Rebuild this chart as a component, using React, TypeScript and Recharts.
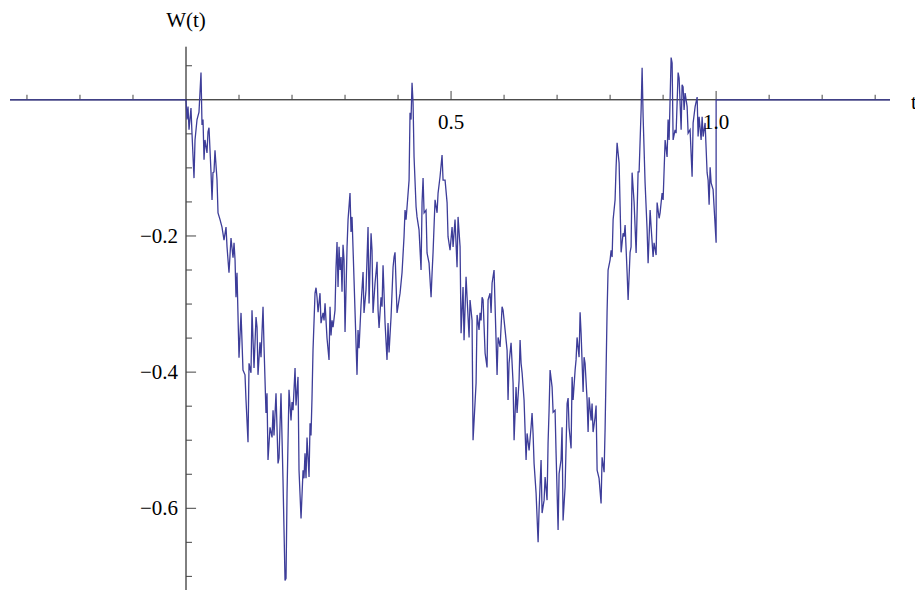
import React from "react";
import { LineChart, Line, XAxis, YAxis, ReferenceLine, ReferenceDot } from "recharts";

// sample path of W(t); W is 0 outside [0, 1]
const times = [
  -0.332,
  0, 0.0019, 0.0038, 0.0057, 0.0094, 0.0113, 0.0151, 0.017, 0.0208, 0.0245,
  0.0283, 0.0302, 0.0321, 0.034, 0.0358, 0.0396, 0.0415, 0.0434, 0.0453, 0.0472,
  0.0491, 0.0509, 0.0528, 0.0547, 0.0585, 0.0604, 0.0642, 0.0679, 0.0717, 0.0755,
  0.0774, 0.0811, 0.0849, 0.0887, 0.0906, 0.0925, 0.0943, 0.0962, 0.1, 0.1038,
  0.1075, 0.1113, 0.1132, 0.117, 0.1189, 0.1226, 0.1245, 0.1283, 0.1321, 0.134,
  0.1358, 0.1396, 0.1415, 0.1453, 0.1472, 0.1509, 0.1528, 0.1547, 0.1585, 0.1623,
  0.1642, 0.166, 0.1698, 0.1736, 0.1755, 0.1792, 0.183, 0.1849, 0.1868, 0.1887,
  0.1906, 0.1943, 0.1981, 0.2, 0.2019, 0.2057, 0.2075, 0.2113, 0.2132, 0.217,
  0.2208, 0.2226, 0.2245, 0.2264, 0.2283, 0.2321, 0.234, 0.2358, 0.2377, 0.2396,
  0.2434, 0.2453, 0.2472, 0.2491, 0.2528, 0.2547, 0.2585, 0.2604, 0.2623, 0.266,
  0.2698, 0.2717, 0.2736, 0.2755, 0.2774, 0.2811, 0.283, 0.2849, 0.2868, 0.2887,
  0.2906, 0.2925, 0.2943, 0.2962, 0.2981, 0.3, 0.3038, 0.3057, 0.3094, 0.3113,
  0.3132, 0.317, 0.3226, 0.3245, 0.3264, 0.3302, 0.334, 0.3358, 0.3396, 0.3434,
  0.3453, 0.3491, 0.3509, 0.3528, 0.3566, 0.3604, 0.3623, 0.3642, 0.3679, 0.3698,
  0.3717, 0.3755, 0.3792, 0.3811, 0.383, 0.3868, 0.3906, 0.3925, 0.3943, 0.3981,
  0.4038, 0.4075, 0.4113, 0.4132, 0.4151, 0.417, 0.4208, 0.4226, 0.4245, 0.4264,
  0.4283, 0.4302, 0.434, 0.4358, 0.4396, 0.4434, 0.4453, 0.4472, 0.4491, 0.4528,
  0.4547, 0.4585, 0.4623, 0.4642, 0.466, 0.4698, 0.4736, 0.4755, 0.4792, 0.483,
  0.4849, 0.4887, 0.4925, 0.4943, 0.4981, 0.5019, 0.5038, 0.5075, 0.5113, 0.5132,
  0.517, 0.5189, 0.5226, 0.5245, 0.5283, 0.5302, 0.534, 0.5358, 0.5396, 0.5415,
  0.5472, 0.5491, 0.5528, 0.5547, 0.5566, 0.5585, 0.5604, 0.5642, 0.5679, 0.5698,
  0.5736, 0.5755, 0.5774, 0.5811, 0.5849, 0.5868, 0.5887, 0.5925, 0.5962, 0.5981,
  0.6019, 0.6057, 0.6075, 0.6094, 0.6132, 0.617, 0.6189, 0.6226, 0.6245, 0.6283,
  0.6302, 0.6321, 0.634, 0.6377, 0.6415, 0.6434, 0.6472, 0.6509, 0.6528, 0.6547,
  0.6566, 0.6604, 0.6642, 0.666, 0.6698, 0.6717, 0.6755, 0.6774, 0.6811, 0.683,
  0.6849, 0.6868, 0.6906, 0.6925, 0.6962, 0.6981, 0.7019, 0.7038, 0.7075, 0.7094,
  0.7113, 0.7151, 0.7189, 0.7208, 0.7226, 0.7264, 0.7283, 0.7302, 0.734, 0.7358,
  0.7377, 0.7415, 0.7434, 0.7453, 0.7491, 0.7509, 0.7528, 0.7566, 0.7585, 0.7604,
  0.7642, 0.766, 0.7679, 0.7717, 0.7736, 0.7755, 0.7792, 0.783, 0.7849, 0.7887,
  0.7906, 0.7943, 0.7962, 0.8, 0.8019, 0.8038, 0.8057, 0.8094, 0.8113, 0.8132,
  0.817, 0.8189, 0.8208, 0.8245, 0.8264, 0.8283, 0.8321, 0.834, 0.8377, 0.8396,
  0.8415, 0.8453, 0.8491, 0.8528, 0.8547, 0.8585, 0.8604, 0.8623, 0.866, 0.8698,
  0.8717, 0.8736, 0.8755, 0.8774, 0.8811, 0.883, 0.8868, 0.8887, 0.8925, 0.8943,
  0.8981, 0.9, 0.9038, 0.9075, 0.9094, 0.9113, 0.9151, 0.917, 0.9189, 0.9226,
  0.9245, 0.9283, 0.9302, 0.934, 0.9358, 0.9377, 0.9396, 0.9415, 0.9453, 0.9472,
  0.9509, 0.9547, 0.9566, 0.9604, 0.9642, 0.966, 0.9679, 0.9717, 0.9736, 0.9755,
  0.9792, 0.983, 0.9849, 0.9868, 0.9887, 0.9906, 0.9943,
  1.0,
  1.0, 1.328,
];

const values = [
  0,
  0, -0.029, -0.01, -0.044, -0.012, -0.049, -0.115, -0.059, -0.029, -0.018,
  0.04, -0.037, -0.029, -0.088, -0.059, -0.078, -0.047, -0.041, -0.074, -0.107,
  -0.147, -0.107, -0.106, -0.074, -0.118, -0.166, -0.176, -0.187, -0.206, -0.187,
  -0.216, -0.254, -0.203, -0.232, -0.21, -0.235, -0.29, -0.254, -0.379, -0.313,
  -0.397, -0.404, -0.441, -0.503, -0.387, -0.401, -0.309, -0.394, -0.319, -0.334,
  -0.404, -0.356, -0.378, -0.304, -0.363, -0.46, -0.431, -0.529, -0.481, -0.496,
  -0.456, -0.493, -0.431, -0.534, -0.526, -0.431, -0.559, -0.632, -0.706, -0.703,
  -0.578, -0.426, -0.471, -0.444, -0.456, -0.394, -0.449, -0.407, -0.544, -0.615,
  -0.544, -0.556, -0.519, -0.556, -0.496, -0.554, -0.475, -0.493, -0.438, -0.368,
  -0.284, -0.276, -0.29, -0.312, -0.284, -0.328, -0.313, -0.324, -0.299, -0.35,
  -0.382, -0.304, -0.346, -0.324, -0.334, -0.309, -0.246, -0.209, -0.275, -0.216,
  -0.25, -0.231, -0.282, -0.213, -0.235, -0.341, -0.216, -0.176, -0.137, -0.194,
  -0.172, -0.265, -0.404, -0.338, -0.365, -0.301, -0.253, -0.313, -0.279, -0.187,
  -0.299, -0.196, -0.221, -0.313, -0.269, -0.238, -0.309, -0.335, -0.29, -0.304,
  -0.243, -0.328, -0.382, -0.328, -0.371, -0.319, -0.246, -0.231, -0.224, -0.313,
  -0.284, -0.254, -0.201, -0.162, -0.176, -0.157, -0.118, -0.019, -0.029, 0.025,
  -0.004, -0.084, -0.157, -0.172, -0.191, -0.25, -0.151, -0.115, -0.166, -0.162,
  -0.225, -0.24, -0.29, -0.254, -0.225, -0.147, -0.166, -0.137, -0.113, -0.081,
  -0.118, -0.118, -0.151, -0.201, -0.221, -0.187, -0.216, -0.176, -0.246, -0.172,
  -0.216, -0.343, -0.275, -0.353, -0.26, -0.29, -0.349, -0.294, -0.324, -0.5,
  -0.416, -0.316, -0.338, -0.313, -0.324, -0.29, -0.294, -0.372, -0.393, -0.294,
  -0.284, -0.313, -0.269, -0.25, -0.353, -0.404, -0.349, -0.363, -0.304, -0.309,
  -0.338, -0.368, -0.441, -0.387, -0.357, -0.416, -0.5, -0.422, -0.46, -0.412,
  -0.353, -0.387, -0.401, -0.441, -0.529, -0.49, -0.515, -0.481, -0.46, -0.49,
  -0.534, -0.578, -0.65, -0.603, -0.529, -0.607, -0.588, -0.554, -0.588, -0.504,
  -0.456, -0.397, -0.422, -0.459, -0.456, -0.519, -0.632, -0.549, -0.529, -0.481,
  -0.618, -0.569, -0.446, -0.438, -0.481, -0.512, -0.407, -0.441, -0.397, -0.382,
  -0.349, -0.378, -0.312, -0.343, -0.429, -0.378, -0.387, -0.441, -0.488, -0.437,
  -0.471, -0.446, -0.488, -0.466, -0.449, -0.544, -0.556, -0.593, -0.525, -0.547,
  -0.482, -0.312, -0.25, -0.235, -0.221, -0.231, -0.176, -0.147, -0.099, -0.063,
  -0.093, -0.157, -0.224, -0.196, -0.201, -0.184, -0.254, -0.294, -0.224, -0.216,
  -0.107, -0.151, -0.225, -0.106, -0.106, -0.015, 0.047, -0.025, -0.122, -0.191,
  -0.24, -0.201, -0.162, -0.187, -0.231, -0.21, -0.228, -0.151, -0.174, -0.166,
  -0.137, -0.147, -0.059, -0.084, -0.029, -0.059, 0.062, 0.054, -0.059, -0.044,
  -0.049, 0.04, 0.032, -0.044, 0.022, 0.019, -0.015, 0.01, -0.01, -0.049,
  -0.044, -0.113, -0.034, -0.01, 0.004, -0.054, -0.025, -0.059, -0.025, -0.054,
  -0.034, -0.107, -0.118, -0.154, -0.099, -0.122, -0.132,
  -0.21,
  0, 0,
];

const tDomain = [-0.332, 1.328];
const wDomain = [-0.72, 0.078];

const minorXTicks = [-0.3, -0.2, -0.1, 0.1, 0.2, 0.3, 0.4, 0.6, 0.7, 0.8, 0.9, 1.1, 1.2, 1.3];
const majorXTicks = [0.5, 1.0];
const xTickLabels = ["0.5", "1.0"];
const minorYTicks = [0.05, -0.05, -0.1, -0.15, -0.25, -0.3, -0.35, -0.45, -0.5, -0.55, -0.65, -0.7];
const majorYTicks = [-0.2, -0.4, -0.6];
const yTickLabels = ["\u22120.2", "\u22120.4", "\u22120.6"];

// tick lengths, in data units of the other axis
const xTickMinor = 0.0074;
const xTickMajor = 0.013;
const yTickMinor = 0.0113;
const yTickMajor = 0.019;

const data = times.map((t, i) => ({ t, w: values[i] }));

const serif = "'Liberation Serif', 'Times New Roman', serif";
const tickColor = "#444";

type LabelProps = { viewBox?: { x: number; y: number }; value?: string };

// text placed relative to the reference dot: dx/dy from the point, anchor, baseline
const axisLabel = (text: string, dx: number, dy: number, anchor: "start" | "middle" | "end") =>
  (props: LabelProps) => {
    const vb = props.viewBox;
    if (!vb) return null;
    return (
      <text
        x={vb.x + dx}
        y={vb.y + dy}
        textAnchor={anchor}
        fontFamily={serif}
        fontSize={21}
        fill="#000"
      >
        {text}
      </text>
    );
  };

export default function App() {
  return (
    <LineChart
      width={915}
      height={585}
      data={data}
      margin={{ top: 38.7, right: 33, bottom: 3, left: 2 }}
    >
      <XAxis type="number" dataKey="t" domain={tDomain} allowDataOverflow hide />
      <YAxis type="number" domain={wDomain} allowDataOverflow hide />

      <ReferenceLine y={0} stroke="#000" strokeWidth={1} />
      <ReferenceLine x={0} stroke="#000" strokeWidth={1} />

      {minorXTicks.map((x) => (
        <ReferenceLine key={`mx${x}`} segment={[{ x, y: 0 }, { x, y: xTickMinor }]} stroke={tickColor} />
      ))}
      {majorXTicks.map((x) => (
        <ReferenceLine key={`Mx${x}`} segment={[{ x, y: 0 }, { x, y: xTickMajor }]} stroke={tickColor} />
      ))}
      {minorYTicks.map((y) => (
        <ReferenceLine key={`my${y}`} segment={[{ x: 0, y }, { x: yTickMinor, y }]} stroke={tickColor} />
      ))}
      {majorYTicks.map((y) => (
        <ReferenceLine key={`My${y}`} segment={[{ x: 0, y }, { x: yTickMajor, y }]} stroke={tickColor} />
      ))}

      <Line
        type="linear"
        dataKey="w"
        stroke="#3d3d99"
        strokeWidth={1.3}
        dot={false}
        isAnimationActive={false}
      />

      {majorXTicks.map((x, i) => (
        <ReferenceDot
          key={`lx${x}`}
          x={x}
          y={0}
          r={0}
          stroke="none"
          fill="none"
          ifOverflow="visible"
          label={axisLabel(xTickLabels[i], 0, 29, "middle")}
        />
      ))}
      {majorYTicks.map((y, i) => (
        <ReferenceDot
          key={`ly${y}`}
          x={0}
          y={y}
          r={0}
          stroke="none"
          fill="none"
          ifOverflow="visible"
          label={axisLabel(yTickLabels[i], -8, 7, "end")}
        />
      ))}
      <ReferenceDot
        x={0}
        y={wDomain[1]}
        r={0}
        stroke="none"
        fill="none"
        ifOverflow="visible"
        label={axisLabel("W(t)", 0, -20, "middle")}
      />
      <ReferenceDot
        x={tDomain[1]}
        y={0}
        r={0}
        stroke="none"
        fill="none"
        ifOverflow="visible"
        label={axisLabel("t", 21, 9, "start")}
      />
    </LineChart>
  );
}
